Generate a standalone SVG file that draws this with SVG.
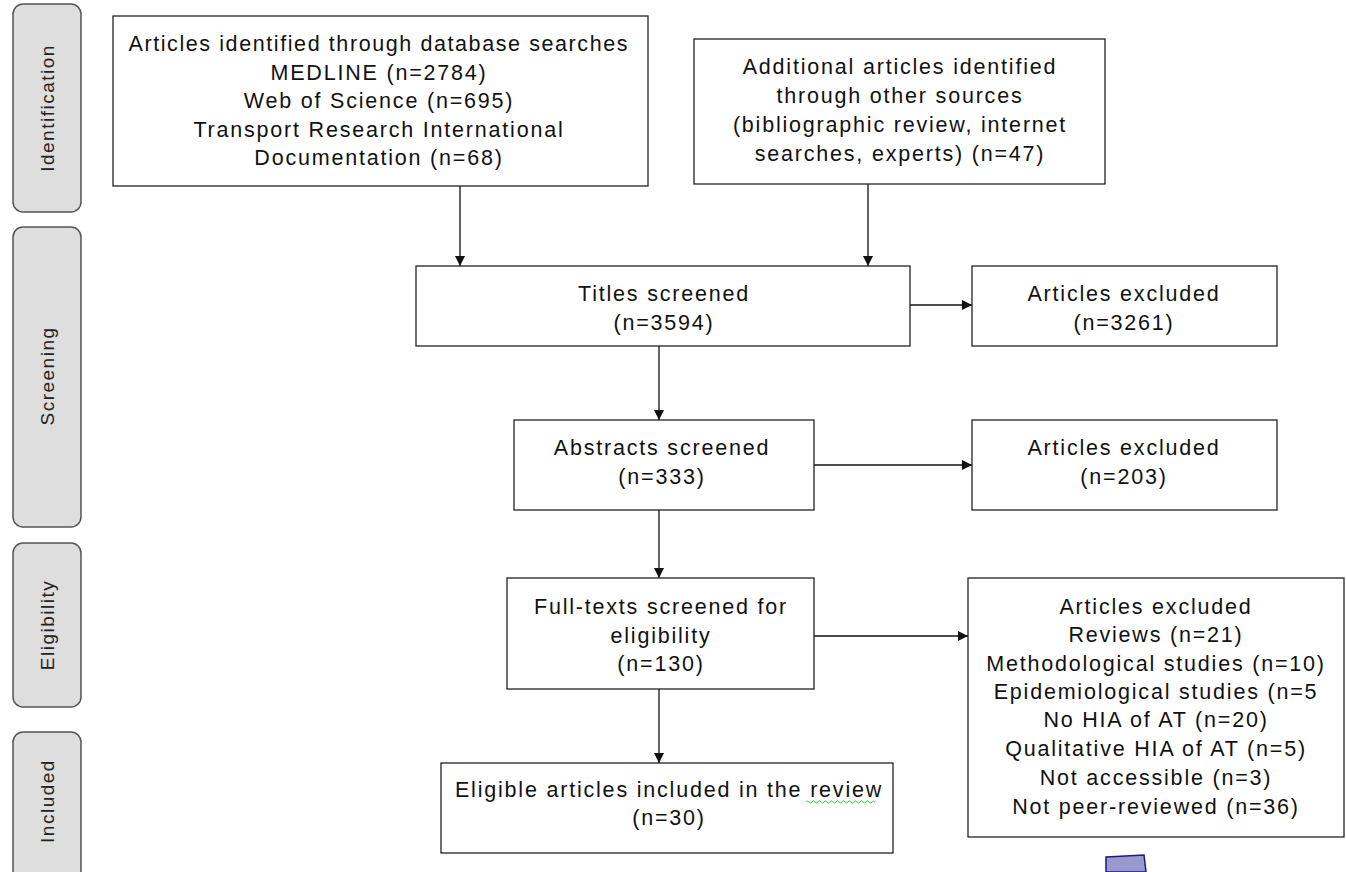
<svg xmlns="http://www.w3.org/2000/svg" width="1346" height="872" viewBox="0 0 1346 872">
<style>
.phase{fill:#dedede;stroke:#555;stroke-width:1.5}
.ptxt{font-family:"Liberation Sans",Arial,sans-serif;font-size:19px;letter-spacing:1.5px;fill:#222;text-anchor:middle}
.box{fill:#fff;stroke:#222;stroke-width:1.3}
.t{font-family:"Liberation Sans",Arial,sans-serif;font-size:21.5px;letter-spacing:1.8px;fill:#111;text-anchor:middle}
.c{stroke:#111;stroke-width:1.3;fill:none;marker-end:url(#ah)}
</style>
<defs>
<marker id="ah" viewBox="0 0 10 10" refX="10" refY="5" markerWidth="10" markerHeight="10" markerUnits="userSpaceOnUse" orient="auto">
<path d="M0,0 L10,5 L0,10 z" fill="#111"/>
</marker>
</defs>
<rect width="1346" height="872" fill="#fff"/>
<g id="phase-identification"><rect class="phase" x="13" y="4" width="68" height="208" rx="10"/><text class="ptxt" transform="translate(54,108) rotate(-90)">Identification</text></g>
<g id="phase-screening"><rect class="phase" x="13" y="227" width="68" height="300" rx="10"/><text class="ptxt" transform="translate(54,376) rotate(-90)">Screening</text></g>
<g id="phase-eligibility"><rect class="phase" x="13" y="543" width="68" height="164" rx="10"/><text class="ptxt" transform="translate(54,625) rotate(-90)">Eligibility</text></g>
<g id="phase-included"><rect class="phase" x="13" y="732" width="68" height="150" rx="10"/><text class="ptxt" transform="translate(54,801) rotate(-90)">Included</text></g>

<g id="connectors">
<path class="c" d="M460,186 V266"/>
<path class="c" d="M868,184 V266"/>
<path class="c" d="M910,305 H972"/>
<path class="c" d="M659,346 V420"/>
<path class="c" d="M814,465 H972"/>
<path class="c" d="M659,510 V578"/>
<path class="c" d="M814,636 H968"/>
<path class="c" d="M659,689 V763"/>
</g>

<g id="n-database"><rect class="box" x="113" y="16" width="535" height="170"/>
<text class="t" x="378" y="51" textLength="499" lengthAdjust="spacing" style="letter-spacing:0">Articles identified through database searches</text>
<text class="t" x="379" y="80">MEDLINE (n=2784)</text>
<text class="t" x="379" y="108">Web of Science (n=695)</text>
<text class="t" x="379" y="137">Transport Research International</text>
<text class="t" x="379" y="165">Documentation (n=68)</text></g>

<g id="n-other"><rect class="box" x="694" y="39" width="411" height="145"/>
<text class="t" x="900" y="74">Additional articles identified</text>
<text class="t" x="900" y="103">through other sources</text>
<text class="t" x="900" y="132">(bibliographic review, internet</text>
<text class="t" x="900" y="161">searches, experts) (n=47)</text></g>

<g id="n-titles"><rect class="box" x="416" y="266" width="494" height="80"/>
<text class="t" x="664" y="301">Titles screened</text>
<text class="t" x="664" y="330">(n=3594)</text></g>

<g id="n-excl1"><rect class="box" x="972" y="266" width="305" height="80"/>
<text class="t" x="1124" y="301">Articles excluded</text>
<text class="t" x="1124" y="330">(n=3261)</text></g>

<g id="n-abstracts"><rect class="box" x="514" y="420" width="300" height="90"/>
<text class="t" x="662" y="455">Abstracts screened</text>
<text class="t" x="662" y="484">(n=333)</text></g>

<g id="n-excl2"><rect class="box" x="972" y="420" width="305" height="90"/>
<text class="t" x="1124" y="455">Articles excluded</text>
<text class="t" x="1124" y="484">(n=203)</text></g>

<g id="n-fulltext"><rect class="box" x="507" y="578" width="307" height="111"/>
<text class="t" x="661" y="614">Full-texts screened for</text>
<text class="t" x="661" y="643">eligibility</text>
<text class="t" x="661" y="671">(n=130)</text></g>

<g id="n-excl3"><rect class="box" x="968" y="578" width="376" height="259"/>
<text class="t" x="1156" y="614">Articles excluded</text>
<text class="t" x="1156" y="642">Reviews (n=21)</text>
<text class="t" x="1156" y="671">Methodological studies (n=10)</text>
<text class="t" x="1156" y="699">Epidemiological studies (n=5</text>
<text class="t" x="1156" y="727">No HIA of AT (n=20)</text>
<text class="t" x="1156" y="756">Qualitative HIA of AT (n=5)</text>
<text class="t" x="1156" y="785">Not accessible (n=3)</text>
<text class="t" x="1156" y="814">Not peer-reviewed (n=36)</text></g>

<g id="n-included"><rect class="box" x="441" y="763" width="452" height="90"/>
<text class="t" x="669" y="797">Eligible articles included in the review</text>
<text class="t" x="669" y="825">(n=30)</text>
<path d="M806,802 q1.5,-2 3,0 t3,0 t3,0 t3,0 t3,0 t3,0 t3,0 t3,0 t3,0 t3,0 t3,0 t3,0 t3,0 t3,0 t3,0 t3,0 t3,0 t3,0 t3,0 t3,0 t3,0 t3,0 t3,0" fill="none" stroke="#3c3" stroke-width="1"/></g>

<g id="shape-blue"><polygon points="1106,857 1144,855 1146,872 1106,872" fill="#9999cc" stroke="#1a1a80" stroke-width="1.5"/></g>
</svg>
